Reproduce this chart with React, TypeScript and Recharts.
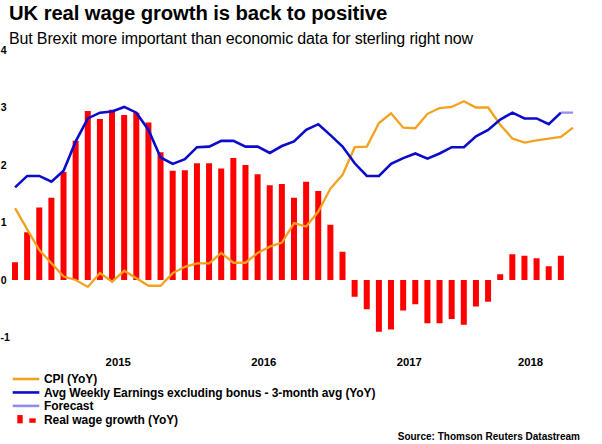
import React from "react";
import { ComposedChart, Bar, Line, XAxis, YAxis, Legend } from "recharts";

const months = [
  "2014-10","2014-11","2014-12",
  "2015-01","2015-02","2015-03","2015-04","2015-05","2015-06","2015-07","2015-08","2015-09","2015-10","2015-11","2015-12",
  "2016-01","2016-02","2016-03","2016-04","2016-05","2016-06","2016-07","2016-08","2016-09","2016-10","2016-11","2016-12",
  "2017-01","2017-02","2017-03","2017-04","2017-05","2017-06","2017-07","2017-08","2017-09","2017-10","2017-11","2017-12",
  "2018-01","2018-02","2018-03","2018-04","2018-05","2018-06","2018-07","2018-08",
];

const cpi = [
  1.25, 0.88, 0.52, 0.29, 0.06, 0.0, -0.12, 0.12, -0.03, 0.16, 0.03, -0.1, -0.1, 0.12, 0.23,
  0.29, 0.29, 0.47, 0.3, 0.3, 0.47, 0.58, 0.65, 0.99, 0.93, 1.19, 1.59,
  1.83, 2.31, 2.32, 2.73, 2.9, 2.65, 2.64, 2.89, 2.99, 3.01, 3.11, 3.0,
  3.0, 2.7, 2.46, 2.39, 2.43, 2.46, 2.49, 2.65,
];

const awe = [
  1.61, 1.81, 1.81, 1.71, 1.9, 2.41, 2.81, 2.91, 2.93, 3.01, 2.91, 2.61, 2.13, 2.02, 2.1,
  2.31, 2.32, 2.42, 2.42, 2.32, 2.32, 2.21, 2.33, 2.41, 2.61, 2.71, 2.52,
  2.32, 2.03, 1.81, 1.81, 2.02, 2.12, 2.2, 2.11, 2.2, 2.31, 2.31, 2.5,
  2.61, 2.79, 2.91, 2.81, 2.81, 2.71, 2.91,
];

const forecastMonths = ["2018-07", "2018-08"];
const forecast = [2.91, 2.91];

const realWage = [
  0.31, 0.83, 1.26, 1.43, 1.88, 2.42, 2.94, 2.8, 2.96, 2.87, 2.91, 2.74, 2.22, 1.9, 1.91,
  2.03, 2.03, 1.94, 2.12, 2.0, 1.84, 1.65, 1.67, 1.43, 1.71, 1.55, 0.96,
  0.49, -0.29, -0.51, -0.9, -0.86, -0.53, -0.42, -0.75, -0.75, -0.68, -0.78, -0.46,
  -0.38, 0.1, 0.45, 0.42, 0.38, 0.24, 0.42,
];

const yearLabels = ["2015", "2016", "2017", "2018"];
const yearTickPos = [8.5, 20.5, 32.5, 42.5];
const yTicks = [-1, 0, 1, 2, 3, 4];

const data = months.map((m, i) => {
  const fi = forecastMonths.indexOf(m);
  return {
    i,
    month: m,
    cpi: cpi[i] ?? null,
    awe: awe[i] ?? null,
    forecast: fi >= 0 ? forecast[fi] : null,
    real: realWage[i] ?? null,
  };
});

const FONT = "'Liberation Sans', Arial, Helvetica, sans-serif";
const ORANGE = "#F4A11E";
const BLUE = "#0B0BCC";
const FORECAST = "#8E8EF0";
const RED = "#FF0000";

const YTick = (props: any) => {
  const { y, payload } = props;
  const neg = payload.value < 0;
  return (
    <text
      x={neg ? 0.5 : 6.5}
      y={y + 3.7}
      textAnchor={neg ? "start" : "end"}
      fontFamily={FONT}
      fontSize={10.5}
      fontWeight="bold"
      fill="#000"
    >
      {payload.value}
    </text>
  );
};

const XTick = (props: any) => {
  const { x, payload } = props;
  const idx = yearTickPos.indexOf(payload.value);
  return (
    <text x={x} y={365.5} textAnchor="middle" fontFamily={FONT} fontSize={11.3} fontWeight="bold" fill="#000">
      {yearLabels[idx]}
    </text>
  );
};

const legendItems = [
  { label: "CPI (YoY)", kind: "line", color: ORANGE },
  { label: "Avg Weekly Earnings excluding bonus - 3-month avg (YoY)", kind: "line", color: BLUE },
  { label: "Forecast", kind: "line", color: FORECAST },
  { label: "Real wage growth (YoY)", kind: "bar", color: RED },
];

const renderLegend = () => (
  <svg width={420} height={60} style={{ display: "block" }}>
    {legendItems.map((it, k) => {
      const cy = 7 + k * 13.45;
      return (
        <g key={it.label}>
          {it.kind === "line" ? (
            <line x1={12.7} x2={39.3} y1={cy} y2={cy} stroke={it.color} strokeWidth={2.6} />
          ) : (
            <g>
              <rect x={17.3} y={cy - 4.3} width={5.4} height={8.3} fill={it.color} />
              <rect x={29.3} y={cy - 1} width={6.4} height={4.4} fill={it.color} />
            </g>
          )}
          <text x={44} y={cy + 4.2} fontFamily={FONT} fontSize={12} fontWeight="bold" fill="#000" letterSpacing={-0.08}>
            {it.label}
          </text>
        </g>
      );
    })}
  </svg>
);

export default function App() {
  return (
    <div style={{ position: "absolute", left: 0, top: 0, width: 602, height: 444, background: "#fff" }}>
      <ComposedChart
        width={602}
        height={444}
        data={data}
        margin={{ top: 50, right: 22.9, bottom: 26.5, left: 0 }}
      >
        <XAxis
          dataKey="i"
          type="number"
          domain={[-0.5, 46.5]}
          ticks={yearTickPos}
          interval={0}
          tick={<XTick />}
          tickLine={false}
          axisLine={false}
          height={20}
          allowDataOverflow
        />
        <YAxis
          domain={[-1, 4]}
          ticks={yTicks}
          tick={<YTick />}
          tickLine={false}
          axisLine={false}
          width={9}
          allowDataOverflow
        />
        <Bar dataKey="real" fill={RED} barSize={6} isAnimationActive={false} />
        <Line dataKey="cpi" stroke={ORANGE} strokeWidth={2.3} dot={false} isAnimationActive={false} />
        <Line dataKey="awe" stroke={BLUE} strokeWidth={2.6} dot={false} isAnimationActive={false} />
        <Line dataKey="forecast" stroke={FORECAST} strokeWidth={2.2} dot={false} isAnimationActive={false} />
        <Legend
          content={renderLegend}
          wrapperStyle={{ position: "absolute", left: 0, top: 372, width: 420, height: 60 }}
        />
      </ComposedChart>
      <svg width={602} height={444} style={{ position: "absolute", left: 0, top: 0, pointerEvents: "none" }}>
        <text x={9} y={19.5} fontFamily={FONT} fontSize={20.3} fontWeight="bold" fill="#000" letterSpacing={-0.1}>
          UK real wage growth is back to positive
        </text>
        <text x={9} y={44} fontFamily={FONT} fontSize={16} fill="#000" letterSpacing={-0.15}>
          But Brexit more important than economic data for sterling right now
        </text>
        <text x={580} y={439.5} textAnchor="end" fontFamily={FONT} fontSize={10} fontWeight="bold" fill="#000">
          Source: Thomson Reuters Datastream
        </text>
      </svg>
    </div>
  );
}
